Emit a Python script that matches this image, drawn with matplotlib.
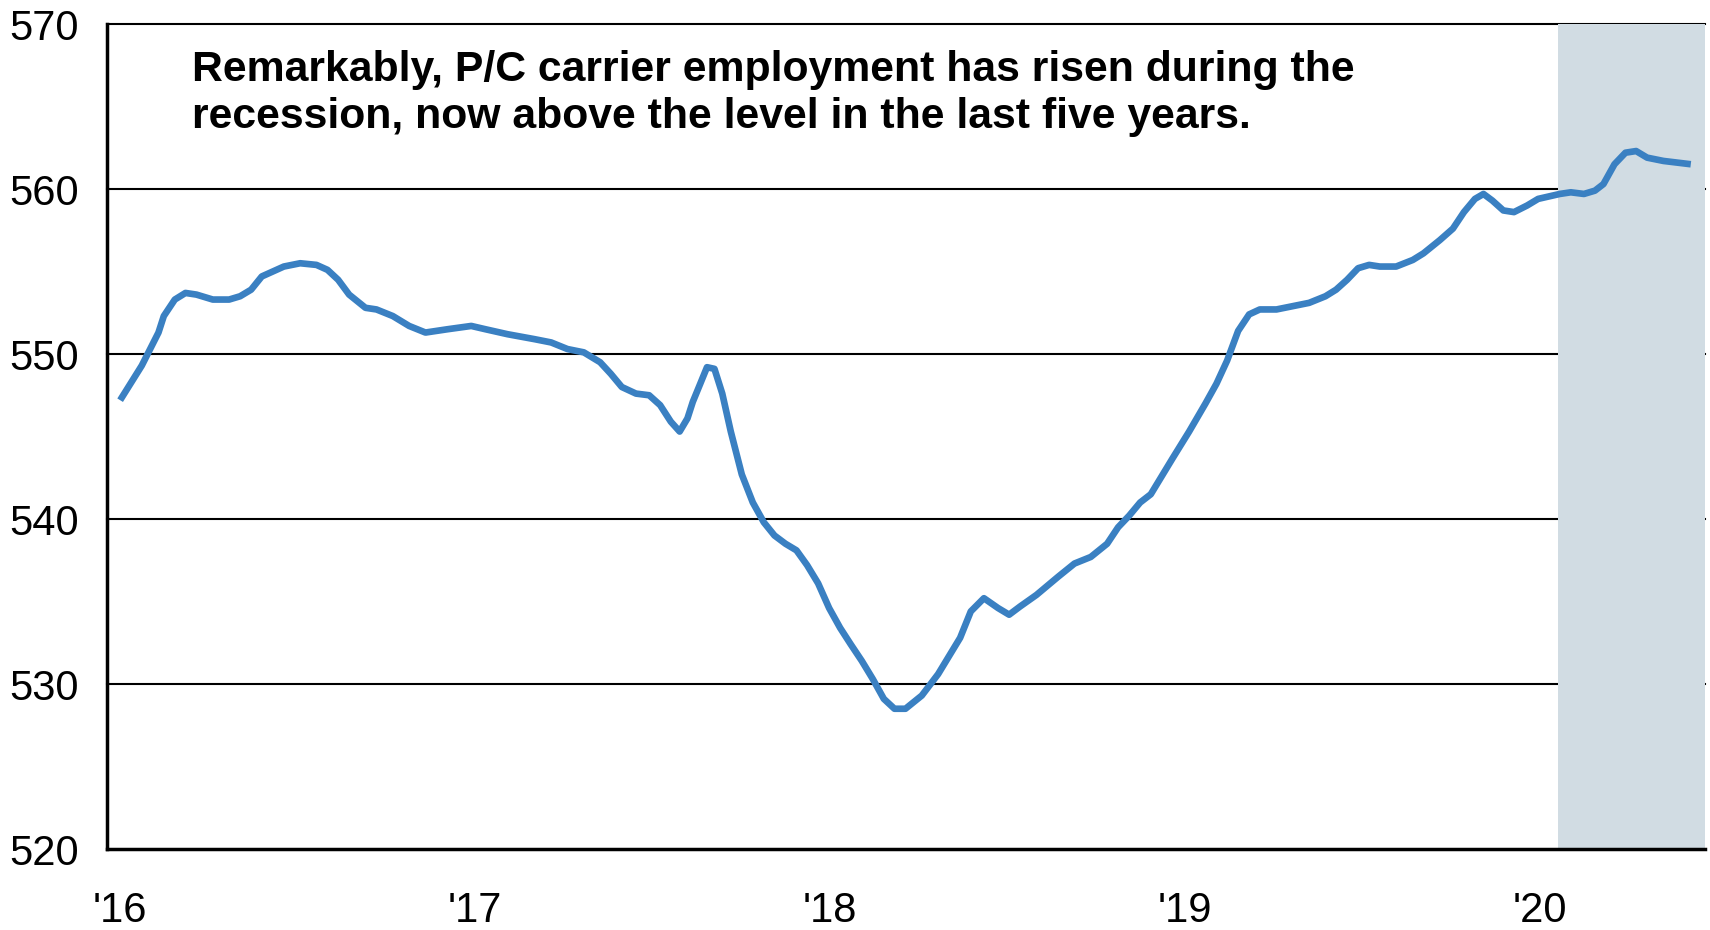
import matplotlib
matplotlib.use("Agg")
import matplotlib.pyplot as plt

# Data: decimal years since Jan 2016 and employment level (thousands)
t_offset = [0.000, 0.061, 0.108, 0.123, 0.154, 0.184, 0.215, 0.261, 0.307, 0.338,
            0.369, 0.399, 0.461, 0.507, 0.553, 0.584, 0.614, 0.645, 0.691, 0.722,
            0.768, 0.814, 0.860, 0.922, 0.989, 1.029, 1.091, 1.167, 1.214, 1.260,
            1.306, 1.352, 1.382, 1.413, 1.453, 1.490, 1.521, 1.551, 1.576, 1.598,
            1.613, 1.634, 1.653, 1.674, 1.696, 1.720, 1.751, 1.782, 1.813, 1.843,
            1.874, 1.905, 1.935, 1.966, 1.997, 2.028, 2.058, 2.089, 2.120, 2.151,
            2.181, 2.212, 2.258, 2.304, 2.335, 2.366, 2.396, 2.433, 2.473, 2.504,
            2.535, 2.581, 2.642, 2.688, 2.734, 2.780, 2.811, 2.842, 2.873, 2.903,
            2.934, 2.965, 3.011, 3.057, 3.088, 3.118, 3.149, 3.180, 3.210, 3.257,
            3.303, 3.349, 3.395, 3.425, 3.456, 3.487, 3.518, 3.548, 3.594, 3.641,
            3.671, 3.717, 3.754, 3.785, 3.816, 3.840, 3.865, 3.896, 3.926, 3.963,
            3.994, 4.055, 4.086, 4.123, 4.154, 4.178, 4.209, 4.240, 4.270, 4.301,
            4.347, 4.424]
employment = [547.2, 549.3, 551.3, 552.3, 553.3, 553.7, 553.6, 553.3, 553.3, 553.5,
              553.9, 554.7, 555.3, 555.5, 555.4, 555.1, 554.5, 553.6, 552.8, 552.7,
              552.3, 551.7, 551.3, 551.5, 551.7, 551.5, 551.2, 550.9, 550.7, 550.3,
              550.1, 549.5, 548.8, 548.0, 547.6, 547.5, 546.9, 545.9, 545.3, 546.1,
              547.1, 548.2, 549.2, 549.1, 547.6, 545.3, 542.7, 541.0, 539.8, 539.0,
              538.5, 538.1, 537.2, 536.1, 534.6, 533.4, 532.4, 531.4, 530.3, 529.1,
              528.5, 528.5, 529.3, 530.6, 531.7, 532.8, 534.4, 535.2, 534.6, 534.2,
              534.7, 535.4, 536.5, 537.3, 537.7, 538.5, 539.5, 540.2, 541.0, 541.5,
              542.6, 543.7, 545.3, 547.0, 548.2, 549.6, 551.4, 552.4, 552.7, 552.7,
              552.9, 553.1, 553.5, 553.9, 554.5, 555.2, 555.4, 555.3, 555.3, 555.7,
              556.1, 556.9, 557.6, 558.6, 559.4, 559.7, 559.3, 558.7, 558.6, 559.0,
              559.4, 559.7, 559.8, 559.7, 559.9, 560.3, 561.5, 562.2, 562.3, 561.9,
              561.7, 561.5]
base_year = 2016
years = [base_year + v for v in t_offset]

shade_start = 2020.049
x_ticks = [2016, 2017, 2018, 2019, 2020]
x_tick_labels = ["'16", "'17", "'18", "'19", "'20"]
y_ticks = [520, 530, 540, 550, 560, 570]
annotation = ("Remarkably, P/C carrier employment has risen during the\n"
              "recession, now above the level in the last five years.")

plt.rcParams['font.family'] = ['Liberation Sans', 'DejaVu Sans']

fig = plt.figure(figsize=(17.1, 9.3), dpi=100)
ax = fig.add_axes([107/1710, 81/930, (1705-107)/1710, (849-24)/930])

ax.set_xlim(2015.963, 2020.464)
ax.set_ylim(520, 570)

for v in y_ticks[1:]:
    ax.axhline(v, color='black', lw=1.5, zorder=1, clip_on=False)

ax.axvspan(shade_start, 2020.464, ymin=0, ymax=1, color='#d1dce3', lw=0, zorder=2)

ax.plot(years, employment, color='#3a80c2', lw=4.8, zorder=3,
        solid_capstyle='butt', solid_joinstyle='round')

for s in ['top', 'right']:
    ax.spines[s].set_visible(False)
for s in ['left', 'bottom']:
    ax.spines[s].set_linewidth(2.5)
    ax.spines[s].set_color('black')
    ax.spines[s].set_zorder(4)

ax.set_xticks(x_ticks)
ax.set_xticklabels(x_tick_labels)
ax.set_yticks(y_ticks)
ax.tick_params(axis='both', length=0, labelsize=30, colors='black')
ax.tick_params(axis='y', pad=20)
ax.tick_params(axis='x', pad=30)

ax.text(0.053, 0.968, annotation, transform=ax.transAxes, ha='left', va='top',
        fontsize=30.8, fontweight='bold', linespacing=1.2, zorder=5)

fig.savefig('out.png', dpi=100)
